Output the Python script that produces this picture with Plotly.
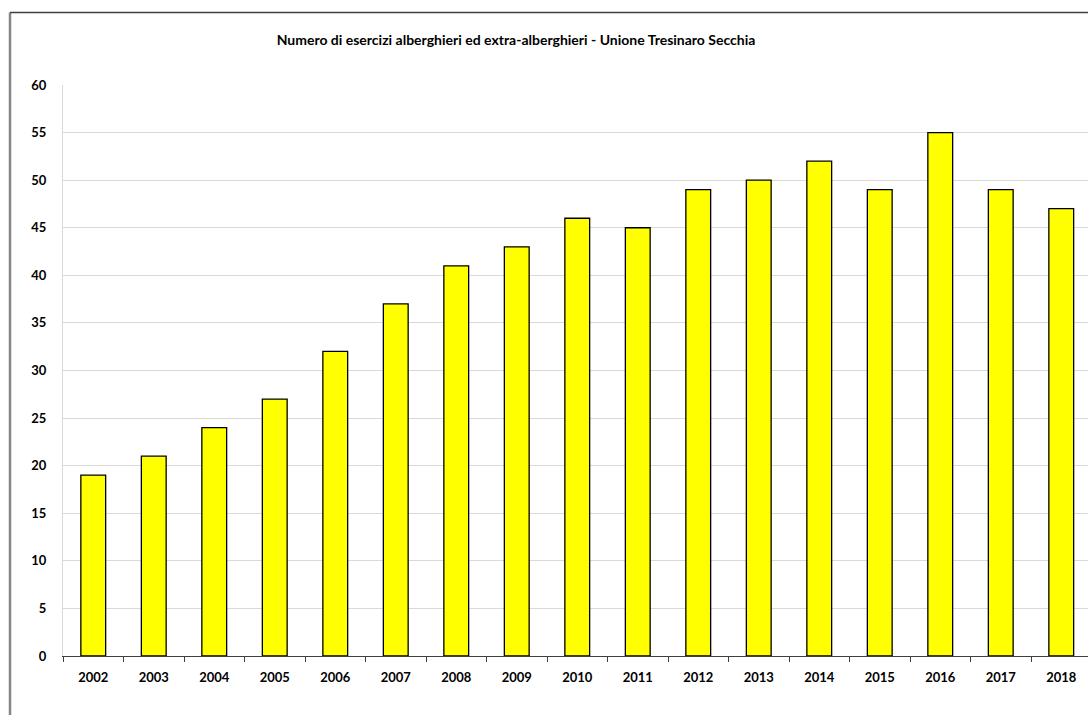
import plotly.graph_objects as go

years = ["2002", "2003", "2004", "2005", "2006", "2007", "2008", "2009", "2010",
         "2011", "2012", "2013", "2014", "2015", "2016", "2017", "2018"]
esercizi = [19, 21, 24, 27, 32, 37, 41, 43, 46, 45, 49, 50, 52, 49, 55, 49, 47]
y_ticks = list(range(0, 61, 5))
title_text = "Numero di esercizi alberghieri ed extra-alberghieri - Unione Tresinaro Secchia"

W, H = 1088, 715
L, T, B = 63, 85, 59
plot_w = W - L
plot_h = H - T - B

FONT = "Lato"

fig = go.Figure(go.Bar(
    x=years, y=esercizi,
    marker=dict(color="#FFFF00", line=dict(color="#000000", width=1.3)),
    width=0.41,
))

def px_to_paper_x(px):
    return (px - L) / plot_w

def px_to_paper_y(py):
    return (H - B - py) / plot_h

# chart border (clipped by the viewport on right/bottom)
bx = px_to_paper_x(10)
by_top = px_to_paper_y(12.5)
by_bot = px_to_paper_y(H + 20)
fig.add_shape(type="line", xref="paper", yref="paper", x0=bx, x1=bx, y0=by_bot, y1=by_top,
              line=dict(color="#868686", width=2.5))
fig.add_shape(type="line", xref="paper", yref="paper", x0=bx, x1=px_to_paper_x(W + 20), y0=by_top, y1=by_top,
              line=dict(color="#404040", width=1.5))

fig.update_layout(
    width=W, height=H,
    margin=dict(l=L, r=0, t=T, b=B, pad=0),
    paper_bgcolor="white", plot_bgcolor="white",
    showlegend=False,
    font=dict(family=FONT, color="#000000"),
    title=dict(text="<b>" + title_text + "</b>", x=516 / W, xanchor="center",
               y=1 - 40 / H, yanchor="middle", font=dict(size=14, family=FONT, color="#000000")),
    bargap=0.6,
)
cat_w = 60.5
n_visible = plot_w / cat_w
fig.update_xaxes(
    type="category", range=[-0.5, -0.5 + n_visible],
    showline=True, linecolor="#404040", linewidth=1.3,
    ticks="outside", tickson="boundaries", ticklen=5, tickcolor="#404040", tickwidth=1.3,
    tickfont=dict(size=13, family=FONT, color="#000000", weight="bold"),
    ticklabelstandoff=9,
    showgrid=False, zeroline=False,
)
fig.update_yaxes(
    range=[0, 60], tickvals=y_ticks, ticktext=[str(v) for v in y_ticks],
    showgrid=True, gridcolor="#d9d9d9", gridwidth=1,
    showline=True, linecolor="#d9d9d9", linewidth=1,
    ticks="", ticklabelstandoff=13,
    tickfont=dict(size=13, family=FONT, color="#000000", weight="bold"),
    zeroline=False,
)

fig.write_html(
    "out.html",
    config={"displayModeBar": False},
    post_script="document.body.style.margin='0';document.body.style.overflow='hidden';",
)
